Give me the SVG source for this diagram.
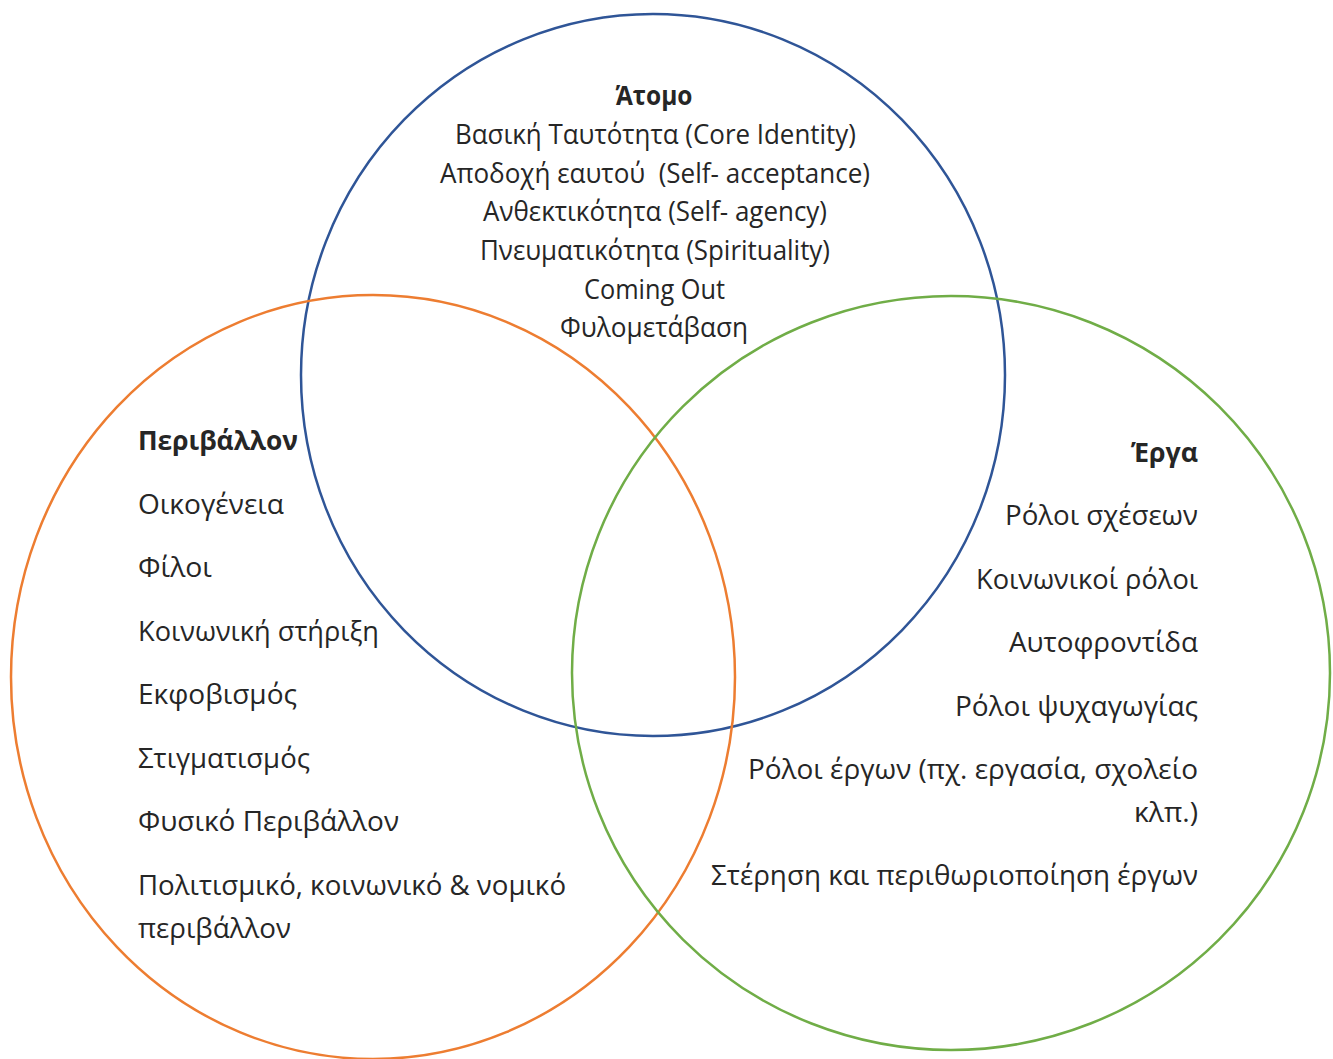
<svg xmlns="http://www.w3.org/2000/svg" width="1333" height="1059" viewBox="0 0 1333 1059">
<style>
.ring{fill:none;stroke-width:2.5}
text{font-family:"Open Sans","Noto Sans","DejaVu Sans",sans-serif;font-size:27px;fill:#262626;white-space:pre}
.h{font-weight:bold}
.c{text-anchor:middle}
.r{text-anchor:end}
</style>
<rect width="1333" height="1059" fill="#ffffff"/>
<g id="circles">
<ellipse id="ring-atomo" class="ring" cx="653" cy="375" rx="352" ry="361" stroke="#2F5597"/>
<ellipse id="ring-perivallon" class="ring" cx="373" cy="677" rx="362" ry="382" stroke="#ED7D31"/>
<ellipse id="ring-erga" class="ring" cx="951" cy="673" rx="379" ry="377" stroke="#70AD47"/>
</g>
<g id="node-atomo" transform="translate(0,1.5)">
<text class="c h" x="654" y="103" textLength="77" lengthAdjust="spacingAndGlyphs">Άτομο</text>
<text class="c" x="655.5" y="142" textLength="401" lengthAdjust="spacingAndGlyphs">Βασική Ταυτότητα (Core Identity)</text>
<text class="c" x="655" y="181" textLength="430" lengthAdjust="spacingAndGlyphs" xml:space="preserve">Αποδοχή εαυτού  (Self- acceptance)</text>
<text class="c" x="655" y="219.5" textLength="344" lengthAdjust="spacingAndGlyphs">Ανθεκτικότητα (Self- agency)</text>
<text class="c" x="655" y="258" textLength="350" lengthAdjust="spacingAndGlyphs">Πνευματικότητα (Spirituality)</text>
<text class="c" x="654.5" y="297" textLength="141" lengthAdjust="spacingAndGlyphs">Coming Out</text>
<text class="c" x="654" y="335.5" textLength="188" lengthAdjust="spacingAndGlyphs">Φυλομετάβαση</text>
</g>
<g id="node-perivallon" transform="translate(0,1)">
<text class="h" x="138" y="449" textLength="160" lengthAdjust="spacingAndGlyphs">Περιβάλλον</text>
<text x="138" y="512.5" textLength="146" lengthAdjust="spacingAndGlyphs">Οικογένεια</text>
<text x="138" y="576" textLength="74" lengthAdjust="spacingAndGlyphs">Φίλοι</text>
<text x="138" y="639.5" textLength="241" lengthAdjust="spacingAndGlyphs">Κοινωνική στήριξη</text>
<text x="138" y="703" textLength="159" lengthAdjust="spacingAndGlyphs">Εκφοβισμός</text>
<text x="138" y="766.5" textLength="172" lengthAdjust="spacingAndGlyphs">Στιγματισμός</text>
<text x="138" y="830" textLength="261" lengthAdjust="spacingAndGlyphs">Φυσικό Περιβάλλον</text>
<text x="138" y="893.5" textLength="428" lengthAdjust="spacingAndGlyphs">Πολιτισμικό, κοινωνικό &amp; νομικό</text>
<text x="138" y="936.5" textLength="153" lengthAdjust="spacingAndGlyphs">περιβάλλον</text>
</g>
<g id="node-erga" transform="translate(0,1)">
<text class="r h" x="1198" y="461" textLength="67" lengthAdjust="spacingAndGlyphs">Έργα</text>
<text class="r" x="1198" y="524" textLength="193" lengthAdjust="spacingAndGlyphs">Ρόλοι σχέσεων</text>
<text class="r" x="1198" y="587.5" textLength="222" lengthAdjust="spacingAndGlyphs">Κοινωνικοί ρόλοι</text>
<text class="r" x="1198" y="651" textLength="189" lengthAdjust="spacingAndGlyphs">Αυτοφροντίδα</text>
<text class="r" x="1198" y="714.5" textLength="243" lengthAdjust="spacingAndGlyphs">Ρόλοι ψυχαγωγίας</text>
<text class="r" x="1198" y="777.5" textLength="450" lengthAdjust="spacingAndGlyphs">Ρόλοι έργων (πχ. εργασία, σχολείο</text>
<text class="r" x="1198" y="821" textLength="64" lengthAdjust="spacingAndGlyphs">κλπ.)</text>
<text class="r" x="1198" y="883.5" textLength="487" lengthAdjust="spacingAndGlyphs">Στέρηση και περιθωριοποίηση έργων</text>
</g>
<g id="connectors"></g>
</svg>
